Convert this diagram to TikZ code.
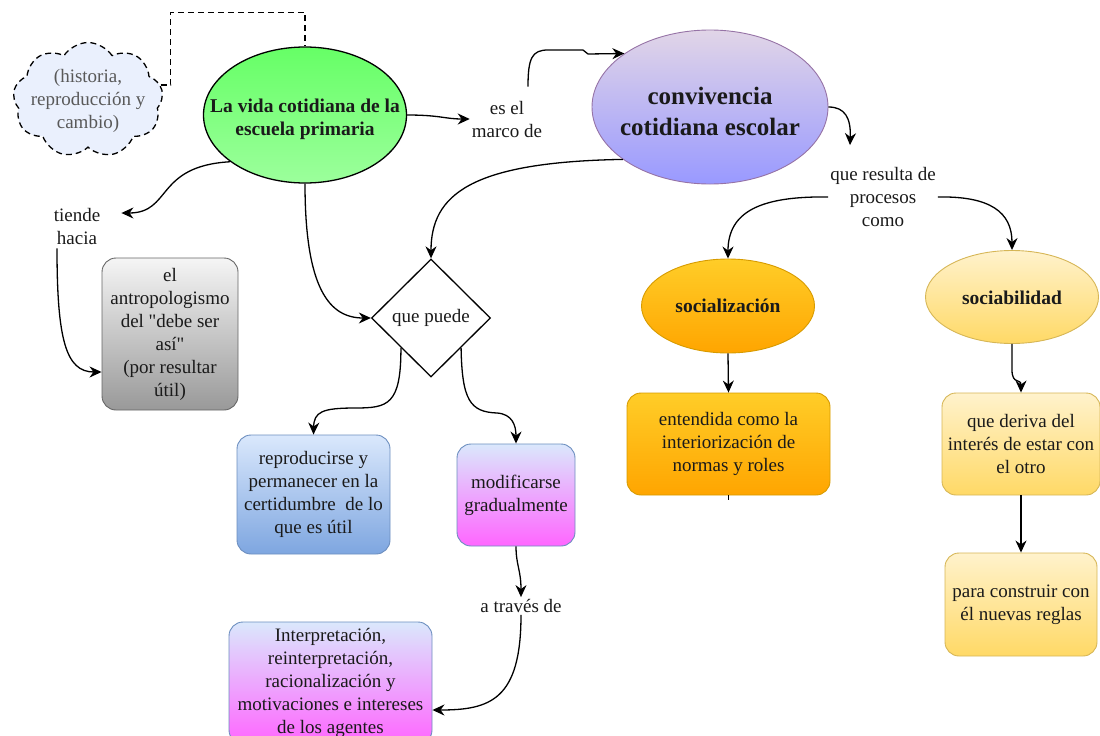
\documentclass[tikz,border=0pt]{standalone}
\usepackage{fontspec}
\setmainfont{Liberation Serif}
\newfontfamily\nomapfont{Liberation Serif}
\newcommand{\sq}{{\nomapfont\symbol{34}}}
\usetikzlibrary{shapes.geometric,shapes.symbols,arrows.meta,calc}
\definecolor{grT}{HTML}{66FF66}
\definecolor{grB}{HTML}{9CFF9C}
\definecolor{puT}{HTML}{E1D5E7}
\definecolor{puB}{HTML}{9999FF}
\definecolor{puD}{HTML}{9673A6}
\definecolor{orT}{HTML}{FFCD28}
\definecolor{orB}{HTML}{FFA500}
\definecolor{orD}{HTML}{D79B00}
\definecolor{yeT}{HTML}{FFF2CC}
\definecolor{yeB}{HTML}{FFD966}
\definecolor{yeD}{HTML}{D6B656}
\definecolor{gyT}{HTML}{F5F5F5}
\definecolor{gyB}{HTML}{999999}
\definecolor{gyD}{HTML}{666666}
\definecolor{blT}{HTML}{DAE8FC}
\definecolor{blB}{HTML}{7EA6E0}
\definecolor{blD}{HTML}{6C8EBF}
\definecolor{pkB}{HTML}{FF66FF}
\definecolor{clF}{HTML}{EAF0FD}
\definecolor{txtc}{HTML}{1A1A1A}
\begin{document}
\begin{tikzpicture}[x=1pt,y=-1pt,
  txt/.style={font=\fontsize{19}{23}\selectfont, align=center, text=txtc, inner sep=2pt},
  btxt/.style={font=\bfseries\fontsize{19.5}{23}\selectfont, align=center, text=txtc, inner sep=0pt},
  arr/.style={draw=black, line width=1.3pt, -{Stealth[length=12pt,width=11pt]}},
  ln/.style={draw=black, line width=1.3pt},
  rbox/.style={txt, rounded corners=14pt, draw, line width=0.9pt, inner sep=0pt},
  ell/.style={ellipse, inner sep=0pt, line width=0.9pt},
  dsh/.style={dash pattern=on 6pt off 4pt},
]
\useasboundingbox (0,0) rectangle (1100,736);

% cloud
\node[cloud, cloud puffs=9, cloud puff arc=115, aspect=1.3, draw=black, dsh,
      line width=1.3pt, fill=clF, minimum width=150pt, minimum height=115pt,
      inner sep=0pt] (cloud) at (88,100) {};
\node[txt, text=black!65] (cloudT) at (88,101) {(historia,\\reproducción y\\cambio)};

% ellipses
\node[ell, draw=black, line width=1.3pt, top color=grT, bottom color=grB,
      minimum width=203pt, minimum height=136pt] (vida) at (305,115) {};
\node[btxt] (vidaT) at (305,119) {La vida cotidiana de la\\escuela primaria};

\node[ell, draw=puD, top color=puT, bottom color=puB,
      minimum width=236pt, minimum height=154pt] (pur) at (710,107) {};
\node[btxt, font=\bfseries\fontsize{25}{31}\selectfont] (purT) at (710,111) {convivencia\\cotidiana escolar};

\node[ell, draw=orD, top color=orT, bottom color=orB,
      minimum width=173pt, minimum height=94pt] (soc1) at (728,306) {};
\node[btxt] (soc1T) at (728,306) {socialización};

\node[ell, draw=yeD, top color=yeT, bottom color=yeB,
      minimum width=173pt, minimum height=93pt] (soc2) at (1012,297) {};
\node[btxt] (soc2T) at (1012,298) {sociabilidad};

% diamond
\node[diamond, draw=black, line width=1.3pt, fill=white, minimum width=119pt,
      minimum height=118pt, inner sep=0pt, txt] (dia) at (431,318) {que puede};

% labels
\node[txt] (lbl1) at (507,119) {es el\\marco de};
\node[txt] (lbl2) at (77,226) {tiende\\hacia};
\node[txt] (lbl3) at (883,197) {que resulta de\\procesos\\como};
\node[txt] (lbl4) at (521,606) {a través de};

% boxes
\node[rbox, draw=gyD, top color=gyT, bottom color=gyB,
      minimum width=136pt, minimum height=152pt] (box1) at (170,334)
      {el\\antropologismo\\del \sq debe ser\\así\sq\\(por resultar\\útil)};
\node[rbox, draw=blD, top color=blT, bottom color=blB,
      minimum width=153pt, minimum height=119pt] (box2) at (313.5,494.5)
      {reproducirse y\\permanecer en la\\certidumbre\ \ de lo\\que es útil};
\node[rbox, draw=blD, top color=blT, bottom color=pkB,
      minimum width=118pt, minimum height=102pt] (box3) at (516,495)
      {modificarse\\gradualmente};
\node[rbox, draw=blD, top color=blT, bottom color=pkB,
      minimum width=203pt, minimum height=122pt] (box4) at (330.5,683)
      {Interpretación,\\reinterpretación,\\racionalización y\\motivaciones e intereses\\de los agentes};
\node[rbox, draw=orD, top color=orT, bottom color=orB,
      minimum width=203pt, minimum height=102pt] (box5) at (728.5,444)
      {entendida como la\\interiorización de\\normas y roles};
\node[rbox, draw=yeD, top color=yeT, bottom color=yeB,
      minimum width=158pt, minimum height=102pt] (box6) at (1021,444)
      {que deriva del\\interés de estar con\\el otro};
\node[rbox, draw=yeD, top color=yeT, bottom color=yeB,
      minimum width=152pt, minimum height=103pt] (box7) at (1021,604.5)
      {para construir con\\él nuevas reglas};

% connectors
\draw[ln, dsh] ($(cloud.east)+(-2,-15)$) -- ++(10,0)
      |- ($(vida.north)+(0,-34)$) -- (vida.north);
\draw[arr] (vida.east) .. controls (440,115) and (445,119) .. (lbl1.west);
\draw[arr] ($(lbl1.north)+(21,-12)$) .. controls (528,58) and (532,50) .. (548,50)
      -- (583,50) -- (588,54) -- (pur.148);
\draw[arr] (pur.east) .. controls (845,107) and (851,118) .. ($(lbl3.north)+(-33,-20)$);
\draw[arr] (lbl3.west) .. controls (760,196) and (728,212) .. (soc1.north);
\draw[arr] (lbl3.east) .. controls (990,196) and (1012,212) .. (soc2.north);
\draw[arr] (soc1.south) -- (box5.north);
\draw[ln] (box5.south) -- ++(0,5);
\draw[arr] (soc2.south) -- ++(0,26) .. controls (1012,385) and (1021,378) .. (box6.north);
\draw[arr] (box6.south) -- (box7.north);
\draw[arr] (vida.212) .. controls (155,166) and (172,213) .. ($(lbl2.east)+(19,-13)$);
\draw[arr] ($(lbl2.south)+(-20,2)$) .. controls (57,340) and (66,372) .. ($(box1.west)+(0,38)$);
\draw[arr] (vida.south) .. controls (305,290) and (330,318) .. (dia.west);
\draw[arr] (pur.211) .. controls (470,162) and (431,195) .. (dia.north);
\draw[arr] (dia.south west) .. controls (401,405) and (388,408) .. (355,408)
      .. controls (322,408) and (314,412) .. (box2.north);
\draw[arr] (dia.south east) .. controls (462,400) and (470,412) .. (497,413)
      .. controls (512,414) and (516,425) .. (box3.north);
\draw[arr] (box3.south) .. controls (516,565) and (521,570) .. (lbl4.north);
\draw[arr] (lbl4.south) .. controls (521,700) and (490,710) .. ($(box4.east)+(0,27)$);
\end{tikzpicture}
\end{document}
